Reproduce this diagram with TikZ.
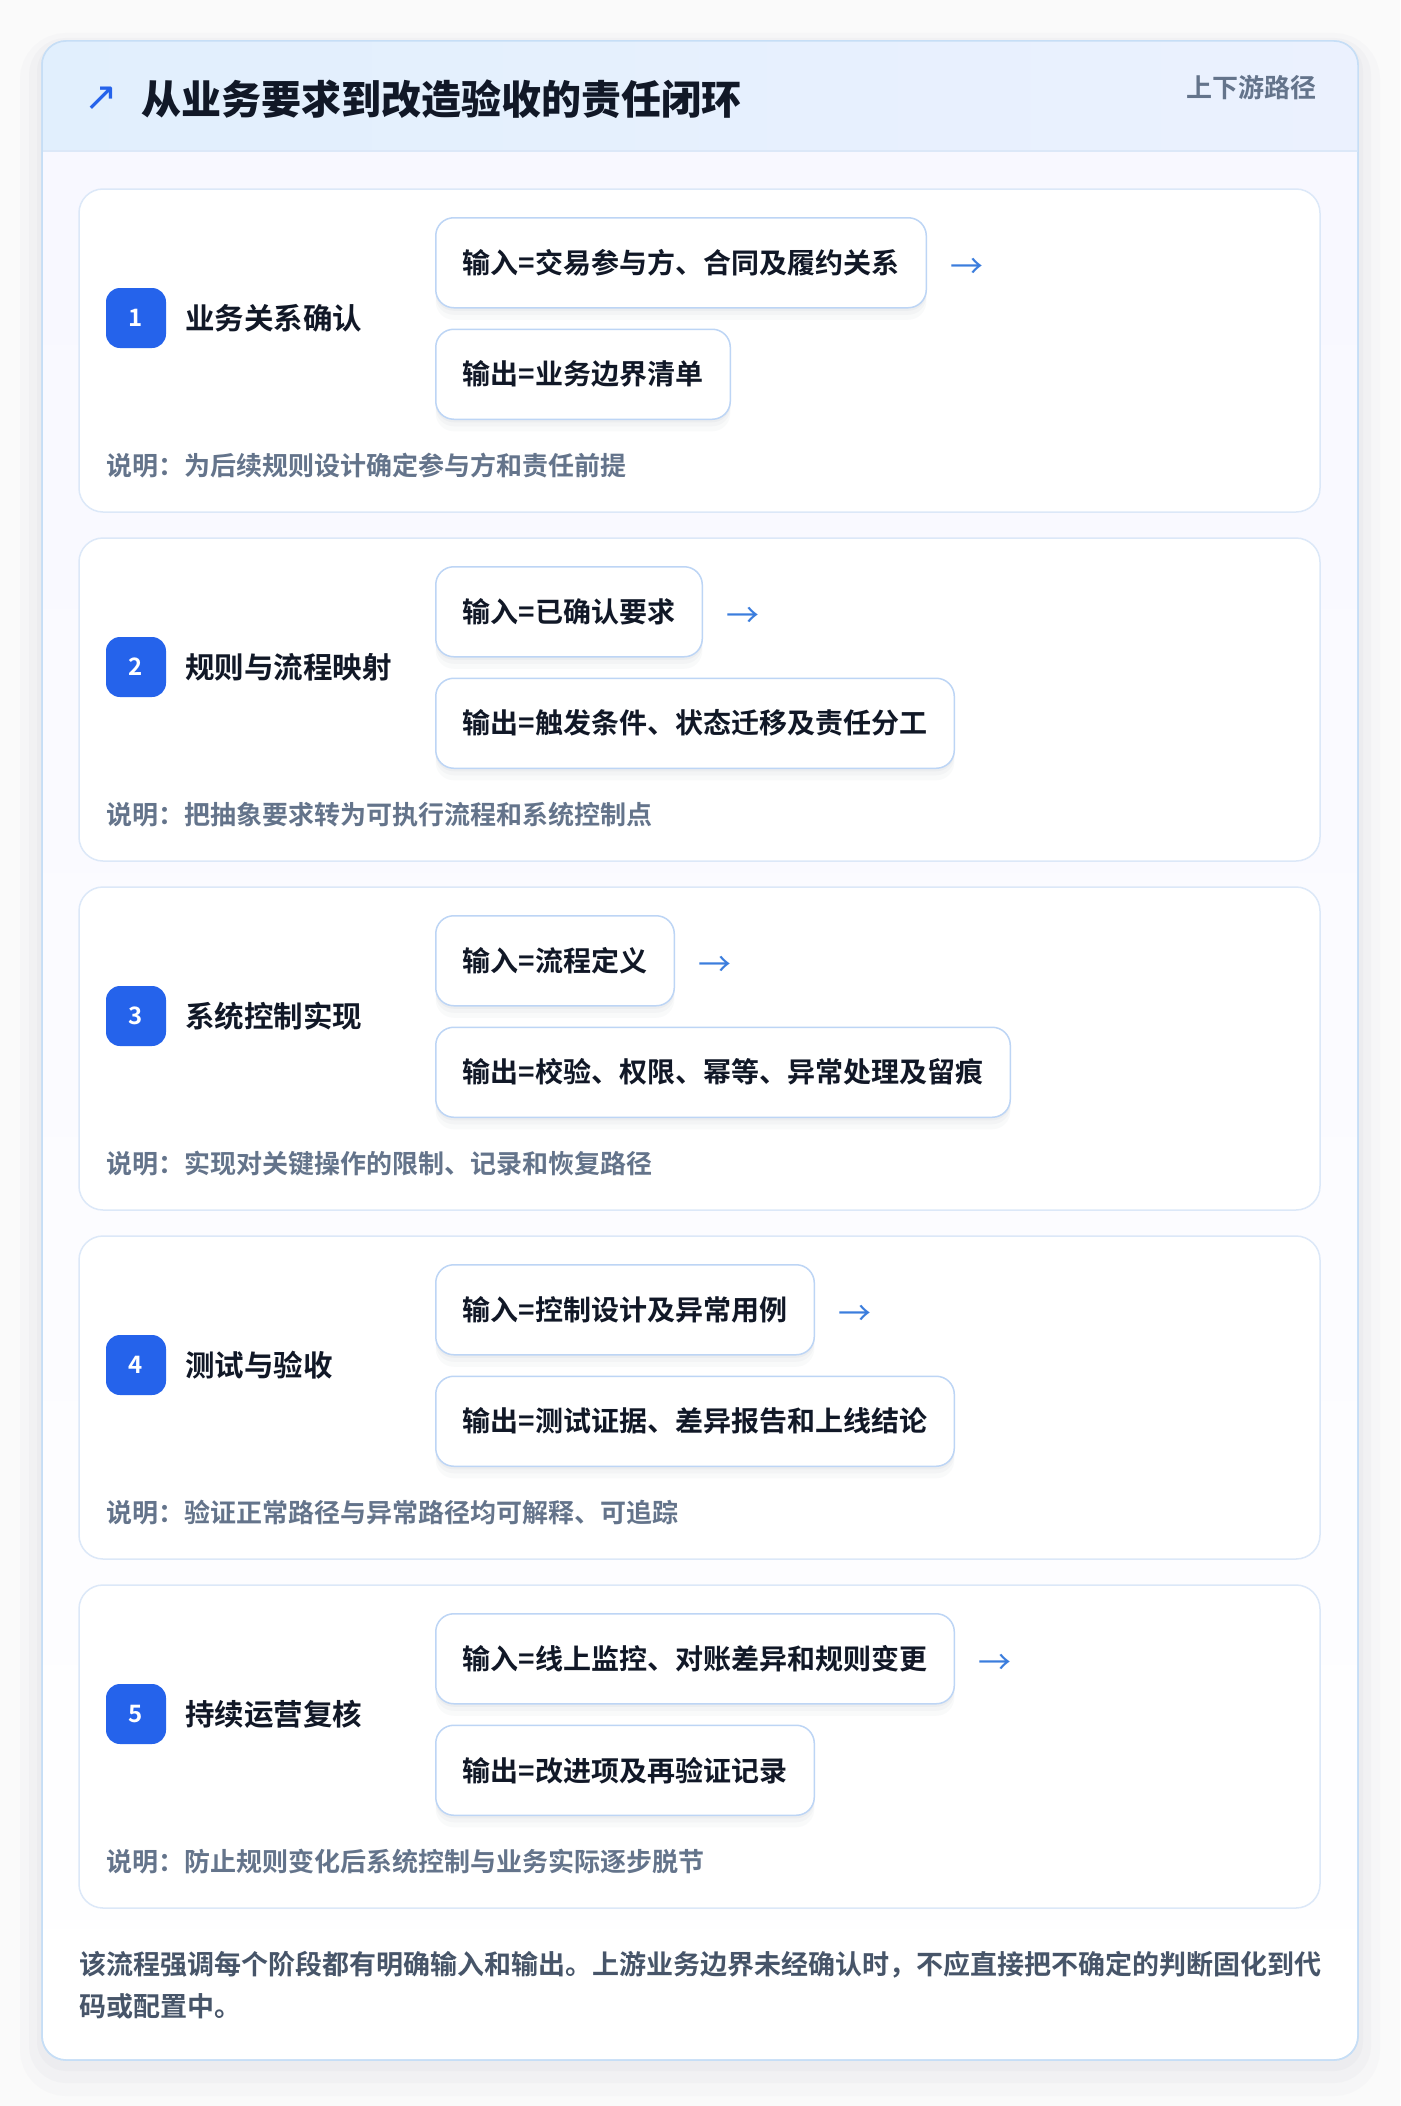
\documentclass[tikz,border=0pt]{standalone}
\usepackage{fontspec}
\setmainfont{Noto Sans CJK SC}[BoldFont=* Bold]
\newfontfamily\heavyfont{Noto Sans CJK SC Black}
\newfontfamily\symfont{DejaVu Sans}
\usetikzlibrary{positioning}

\definecolor{pagebg}{HTML}{FAFAFA}
\definecolor{cardline}{HTML}{C6DEF6}
\definecolor{headA}{HTML}{E1EFFD}
\definecolor{headB}{HTML}{EBF1FE}
\definecolor{stageline}{HTML}{DCE8F8}
\definecolor{boxline}{HTML}{BDD5F5}
\definecolor{badgeblue}{HTML}{2563EB}
\definecolor{ink}{HTML}{111827}
\definecolor{muted}{HTML}{64748B}
\definecolor{footink}{HTML}{475569}
\definecolor{arrowblue}{HTML}{3B7DDD}
\definecolor{shadowgray}{HTML}{64748B}

\tikzset{
  outercard/.style={rounded corners=24pt, top color=blue!3, bottom color=white, draw=cardline, line width=1.5pt},
  cardshadow/.style={preaction={draw=shadowgray, opacity=0.025, line width=44pt, transform canvas={yshift=-14pt}},
                     preaction={draw=shadowgray, opacity=0.03, line width=26pt, transform canvas={yshift=-10pt}},
                     preaction={draw=shadowgray, opacity=0.035, line width=10pt, transform canvas={yshift=-6pt}}},
  stagecard/.style={rounded corners=24pt, fill=white, draw=stageline, line width=1.5pt},
  badgebox/.style={rounded corners=14pt, fill=badgeblue, text=white, minimum width=60pt, minimum height=60pt, inner sep=0pt, font={\fontsize{24}{24}\selectfont\bfseries}},
  stagetitle/.style={text=ink, inner sep=0pt, font={\fontsize{29.5}{34}\selectfont\bfseries}},
  iobox/.style={rounded corners=18pt, fill=white, draw=boxline, line width=1.5pt, inner xsep=27pt, minimum height=90pt, text=ink, font={\fontsize{28}{34}\selectfont\bfseries},
                preaction={fill=shadowgray, opacity=0.035, transform canvas={yshift=-12pt}},
                preaction={fill=shadowgray, opacity=0.04, transform canvas={yshift=-7pt}},
                preaction={fill=shadowgray, opacity=0.05, transform canvas={yshift=-3pt}}},
  flowarrow/.style={text=arrowblue, inner sep=0pt, font={\fontsize{33}{36}\selectfont}},
  note/.style={text=muted, inner sep=0pt, font={\fontsize{26}{30}\selectfont\bfseries}}
}

\begin{document}
\begin{tikzpicture}[x=1pt,y=1pt]

\fill[pagebg] (0,0) rectangle (1400,-2106);
\useasboundingbox (0,0) rectangle (1400,-2106);

% outer card and header
\draw[outercard, cardshadow] (42,-41) rectangle (1358,-2060);
\begin{scope}
\clip[rounded corners=24pt] (42,-41) rectangle (1358,-2060);
\shade[left color=headA, right color=headB] (42,-41) rectangle (1358,-151);
\end{scope}
\draw[stageline, line width=1.5pt] (43,-151) -- (1357,-151);
\draw[cardline, line width=1.5pt, rounded corners=24pt] (42,-41) rectangle (1358,-2060);

\node[text=badgeblue, inner sep=0pt, font={\symfont\fontsize{40}{40}\selectfont}] (icon) at (101,-99) {↗};
\node[anchor=west, text=ink, inner sep=0pt, font={\heavyfont\fontsize{40}{44}\selectfont}] (title) at (141,-99) {从业务要求到改造验收的责任闭环};
\node[anchor=east, text=muted, inner sep=0pt, font={\fontsize{26}{30}\selectfont\bfseries}] (tag) at (1317,-88) {上下游路径};

% stage 1
\draw[stagecard] (79,-189) rectangle (1320,-512);
\node[badgebox] (b1) at (136,-318) {1};
\node[stagetitle, right=19pt of b1] (t1) {业务关系确认};
\node[iobox, anchor=north west] (in1) at (435,-217) {输入=交易参与方、合同及履约关系};
\node[iobox, below=20pt of in1.south west, anchor=north west] (out1) {输出=业务边界清单};
\node[flowarrow, right=23pt of in1, yshift=-6pt] (a1) {→};
\node[note, anchor=west] (n1) at (106,-466) {说明：为后续规则设计确定参与方和责任前提};

% stage 2
\draw[stagecard] (79,-538) rectangle (1320,-861);
\node[badgebox] (b2) at (136,-667) {2};
\node[stagetitle, right=19pt of b2] (t2) {规则与流程映射};
\node[iobox, anchor=north west] (in2) at (435,-566) {输入=已确认要求};
\node[iobox, below=20pt of in2.south west, anchor=north west] (out2) {输出=触发条件、状态迁移及责任分工};
\node[flowarrow, right=23pt of in2, yshift=-6pt] (a2) {→};
\node[note, anchor=west] (n2) at (106,-815) {说明：把抽象要求转为可执行流程和系统控制点};

% stage 3
\draw[stagecard] (79,-887) rectangle (1320,-1210);
\node[badgebox] (b3) at (136,-1016) {3};
\node[stagetitle, right=19pt of b3] (t3) {系统控制实现};
\node[iobox, anchor=north west] (in3) at (435,-915) {输入=流程定义};
\node[iobox, below=20pt of in3.south west, anchor=north west] (out3) {输出=校验、权限、幂等、异常处理及留痕};
\node[flowarrow, right=23pt of in3, yshift=-6pt] (a3) {→};
\node[note, anchor=west] (n3) at (106,-1164) {说明：实现对关键操作的限制、记录和恢复路径};

% stage 4
\draw[stagecard] (79,-1236) rectangle (1320,-1559);
\node[badgebox] (b4) at (136,-1365) {4};
\node[stagetitle, right=19pt of b4] (t4) {测试与验收};
\node[iobox, anchor=north west] (in4) at (435,-1264) {输入=控制设计及异常用例};
\node[iobox, below=20pt of in4.south west, anchor=north west] (out4) {输出=测试证据、差异报告和上线结论};
\node[flowarrow, right=23pt of in4, yshift=-6pt] (a4) {→};
\node[note, anchor=west] (n4) at (106,-1513) {说明：验证正常路径与异常路径均可解释、可追踪};

% stage 5
\draw[stagecard] (79,-1585) rectangle (1320,-1908);
\node[badgebox] (b5) at (136,-1714) {5};
\node[stagetitle, right=19pt of b5] (t5) {持续运营复核};
\node[iobox, anchor=north west] (in5) at (435,-1613) {输入=线上监控、对账差异和规则变更};
\node[iobox, below=20pt of in5.south west, anchor=north west] (out5) {输出=改进项及再验证记录};
\node[flowarrow, right=23pt of in5, yshift=-6pt] (a5) {→};
\node[note, anchor=west] (n5) at (106,-1862) {说明：防止规则变化后系统控制与业务实际逐步脱节};

% footer
\node[anchor=north west, align=left, text=footink, inner sep=0pt, font={\fontsize{27}{42}\selectfont\bfseries}] (foot) at (79,-1951) {该流程强调每个阶段都有明确输入和输出。上游业务边界未经确认时，不应直接把不确定的判断固化到代\\码或配置中。};

\end{tikzpicture}
\end{document}
